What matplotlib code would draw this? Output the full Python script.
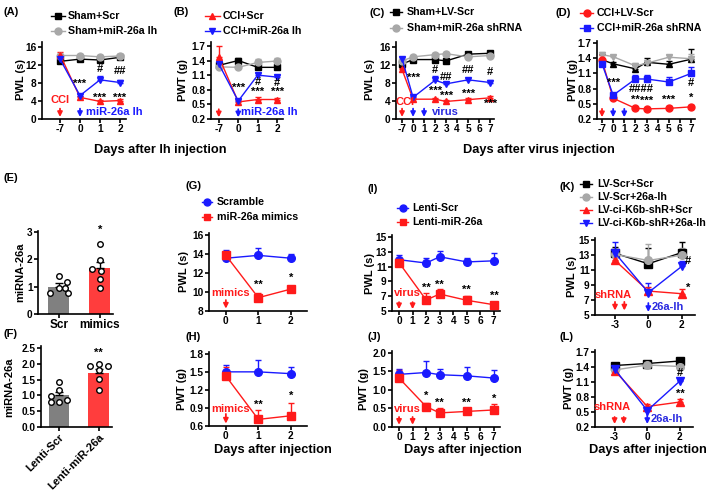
import matplotlib
matplotlib.use('Agg')
import matplotlib.pyplot as plt
from matplotlib.lines import Line2D
import numpy as np

plt.rcParams['font.family'] = ['Liberation Sans', 'DejaVu Sans']
plt.rcParams['font.weight'] = 'bold'
plt.rcParams['axes.labelweight'] = 'bold'

# ---------------- data ----------------
days_AB = ["-7", "0", "1", "2"]
A_sham_scr = [12.8, 13.3, 13.1, 13.7]; A_sham_scr_err = [0.5, 0.4, 0.5, 0.4]
A_sham_lh = [14.1, 14.1, 13.8, 14.0];  A_sham_lh_err = [0.4, 0.4, 0.4, 0.4]
A_cci_scr = [14.3, 4.8, 3.9, 4.1];     A_cci_scr_err = [0.5, 0.3, 0.3, 0.3]
A_cci_lh = [13.3, 5.2, 8.7, 8.1];      A_cci_lh_err = [0.4, 0.3, 0.9, 0.5]

B_sham_scr = [1.30, 1.40, 1.26, 1.26]; B_sham_scr_err = [0.05, 0.05, 0.04, 0.04]
B_sham_lh = [1.27, 1.26, 1.36, 1.39];  B_sham_lh_err = [0.04, 0.04, 0.07, 0.07]
B_cci_scr = [1.48, 0.55, 0.60, 0.60];  B_cci_scr_err = [0.22, 0.04, 0.06, 0.04]
B_cci_lh = [1.33, 0.57, 1.10, 1.06];   B_cci_lh_err = [0.05, 0.04, 0.05, 0.05]

days_CD_ticks = ["-7", "0", "1", "2", "3", "4", "5", "6", "7"]
days_CD = [-7, 0, 2, 3, 5, 7]
C_sham_lvscr = [12.2, 13.2, 13.2, 12.9, 14.4, 14.6]; C_sham_lvscr_err = [0.5, 0.6, 0.6, 0.6, 0.5, 0.5]
C_sham_sh = [12.9, 13.8, 14.3, 14.5, 13.8, 14.1];    C_sham_sh_err = [0.5, 0.4, 0.4, 0.4, 0.4, 0.4]
C_cci_lvscr = [11.0, 4.4, 4.4, 3.9, 4.3, 4.7];       C_cci_lvscr_err = [0.4, 0.3, 0.3, 0.3, 0.3, 0.3]
C_cci_sh = [13.4, 4.8, 8.6, 7.8, 8.7, 8.1];          C_cci_sh_err = [0.4, 0.3, 1.0, 0.5, 0.5, 0.6]

D_cci_lvscr = [1.36, 0.61, 0.41, 0.40, 0.41, 0.44];  D_cci_lvscr_err = [0.10, 0.03, 0.03, 0.02, 0.04, 0.03]
D_cci_sh = [1.29, 0.67, 0.99, 0.99, 0.93, 1.10];     D_cci_sh_err = [0.03, 0.03, 0.08, 0.07, 0.10, 0.12]
D_sham_lvscr = [1.37, 1.29, 1.19, 1.32, 1.28, 1.38]; D_sham_lvscr_err = [0.12, 0.04, 0.08, 0.08, 0.07, 0.20]
D_sham_sh = [1.47, 1.43, 1.25, 1.30, 1.42, 1.39];    D_sham_sh_err = [0.05, 0.04, 0.05, 0.05, 0.04, 0.10]

E_groups = ["Scr", "mimics"]
E_means = [1.0, 1.67]; E_err = [0.12, 0.25]
E_scr_pts = [0.76, 1.40, 0.95, 1.16, 0.76, 0.95]
E_mim_pts = [1.66, 2.57, 1.99, 1.56, 1.30, 0.97]

F_groups = ["Lenti-Scr", "Lenti-miR-26a"]
F_means = [1.0, 1.70]; F_err = [0.10, 0.12]
F_scr_pts = [1.42, 0.97, 1.16, 0.78, 0.84, 0.80]
F_mir_pts = [1.92, 1.99, 1.92, 1.79, 1.52, 1.16]

days_GH = ["0", "1", "2"]
G_scr = [13.55, 13.85, 13.55]; G_scr_err = [0.85, 0.75, 0.45]
G_mim = [13.85, 9.4, 10.3];    G_mim_err = [0.4, 0.5, 0.3]
H_scr = [1.50, 1.50, 1.47];    H_scr_err = [0.12, 0.20, 0.11]
H_mim = [1.43, 0.71, 0.77];    H_mim_err = [0.15, 0.15, 0.22]

days_IJ_ticks = ["0", "1", "2", "3", "4", "5", "6", "7"]
days_IJ = [0, 2, 3, 5, 7]
I_scr = [11.95, 11.5, 12.35, 11.65, 11.8]; I_scr_err = [0.6, 0.65, 0.8, 0.55, 1.0]
I_mir = [11.55, 6.5, 7.3, 6.45, 5.85];     I_mir_err = [0.3, 1.0, 0.7, 0.6, 0.3]
J_scr = [1.42, 1.47, 1.41, 1.38, 1.32];    J_scr_err = [0.14, 0.31, 0.16, 0.24, 0.23]
J_mir = [1.32, 0.55, 0.38, 0.42, 0.46];    J_mir_err = [0.22, 0.10, 0.12, 0.07, 0.17]

days_KL = ["-3", "0", "2"]
K_a = [13.25, 11.85, 13.35]; K_a_err = [0.8, 2.1, 1.4]
K_b = [13.1, 12.3, 13.0];    K_b_err = [0.6, 2.2, 0.9]
K_c = [12.3, 8.2, 7.85];     K_c_err = [0.4, 0.5, 0.6]
K_d = [13.3, 8.0, 11.5];     K_d_err = [1.4, 1.3, 0.7]
L_a = [1.43, 1.47, 1.52];    L_a_err = [0.04, 0.05, 0.03]
L_b = [1.34, 1.44, 1.41];    L_b_err = [0.03, 0.03, 0.03]
L_c = [1.33, 0.61, 0.70];    L_c_err = [0.03, 0.06, 0.07]
L_d = [1.36, 0.53, 1.12];    L_d_err = [0.03, 0.03, 0.03]

# ---------------- style ----------------
RED = '#ff1a1a'; BLUE = '#1a1aff'; GRAY = '#a8a8a8'; BLACK = '#000000'
TXTBLUE = '#2a2ae0'
W, H = 709, 494
fig = plt.figure(figsize=(W / 100, H / 100), dpi=100)
TICK_FS = 7.3
LEG_FS = 7.7
ANN_FS = 8


def add_ax(l, t, r, b):
    ax = fig.add_axes([l / W, 1 - b / H, (r - l) / W, (b - t) / H])
    for s in ['top', 'right']:
        ax.spines[s].set_visible(False)
    for s in ['left', 'bottom']:
        ax.spines[s].set_linewidth(1.2)
    ax.tick_params(width=1.2, length=2.6, labelsize=TICK_FS, pad=1.2)
    return ax


def ftext(x, y, s, **kw):
    kw.setdefault('ha', 'center')
    kw.setdefault('va', 'center')
    fig.text(x / W, 1 - y / H, s, **kw)


def series(ax, x, y, err, color, marker, ms=5, z=3):
    err = np.asarray(err)
    ax.errorbar(x, y, yerr=[np.zeros(len(err)), err], color=color, marker=marker,
                ms=ms, lw=1.0, elinewidth=1.0, capsize=2.5, capthick=1.0,
                zorder=z, clip_on=False, mec=color, mfc=color)


def arrow(ax, x, y0, y1, color):
    ax.annotate('', xy=(x, y1), xytext=(x, y0),
                arrowprops=dict(arrowstyle='-|>', color=color, lw=1.3,
                                mutation_scale=7, shrinkA=0, shrinkB=0),
                annotation_clip=False)


def ann(ax, x, y, s, color=BLACK, fs=ANN_FS, ha='center'):
    ax.text(x, y, s, color=color, fontsize=fs, ha=ha, va='center',
            fontweight='bold', clip_on=False, zorder=6)


def legend_entry(x0, x1, y, color, marker, text, tx):
    yy = 1 - y / H
    fig.add_artist(Line2D([x0 / W, x1 / W], [yy, yy], color=color, lw=1.0))
    fig.add_artist(Line2D([(x0 + x1) / 2 / W], [yy], color=color, marker=marker,
                          ms=5, ls='none'))
    fig.text(tx / W, yy, text, fontsize=LEG_FS, ha='left', va='center')


def pos_cd(d):
    return [-1 if v == -7 else v for v in d]


# ---------------- panel A ----------------
axA = add_ax(42, 42, 126, 119)
xA = [-1, 0, 1, 2]
series(axA, xA, A_sham_scr, A_sham_scr_err, BLACK, 's')
series(axA, xA, A_sham_lh, A_sham_lh_err, GRAY, 'o')
series(axA, xA, A_cci_scr, A_cci_scr_err, RED, '^')
series(axA, xA, A_cci_lh, A_cci_lh_err, BLUE, 'v')
axA.set_xlim(-1.9, 2.3); axA.set_ylim(0, 17.1)
axA.set_xticks(xA); axA.set_xticklabels(days_AB)
axA.set_yticks([0, 4, 8, 12, 16])
ann(axA, 0, 7.7, '***'); ann(axA, 1, 4.7, '***'); ann(axA, 2, 4.7, '***')
ann(axA, 1, 11.1, '#'); ann(axA, 2, 10.7, '##')
ann(axA, -1, 4.2, 'CCI', color=RED)
arrow(axA, -1, 2.3, 0.45, RED); arrow(axA, 0, 2.3, 0.45, BLUE)
ann(axA, 0.3, 1.5, 'miR-26a lh', color=BLUE, ha='left')

# ---------------- panel B ----------------
axB = add_ax(211, 42, 283, 119)
series(axB, xA, B_sham_scr, B_sham_scr_err, BLACK, 's')
series(axB, xA, B_sham_lh, B_sham_lh_err, GRAY, 'o')
series(axB, xA, B_cci_scr, B_cci_scr_err, RED, '^')
series(axB, xA, B_cci_lh, B_cci_lh_err, BLUE, 'v')
axB.set_xlim(-1.4, 2.3); axB.set_ylim(0.2, 1.78)
axB.set_xticks(xA); axB.set_xticklabels(days_AB)
axB.set_yticks([0.2, 0.5, 0.8, 1.1, 1.4, 1.7])
axB.set_yticklabels(['0.2', '0.5', '0.8', '1.1', '1.4', '1.7'])
ann(axB, 0, 0.84, '***'); ann(axB, 1, 0.75, '***'); ann(axB, 2, 0.75, '***')
ann(axB, 1, 0.965, '#'); ann(axB, 2, 0.93, '#')
arrow(axB, -1, 0.40, 0.235, RED); arrow(axB, 0, 0.40, 0.235, BLUE)
ann(axB, 0.15, 0.34, 'miR-26a lh', color=BLUE, ha='left')

# ---------------- panel C ----------------
axC = add_ax(396, 42, 494, 119)
xC = pos_cd(days_CD)
series(axC, xC, C_sham_lvscr, C_sham_lvscr_err, BLACK, 's')
series(axC, xC, C_sham_sh, C_sham_sh_err, GRAY, 'o')
series(axC, xC, C_cci_lvscr, C_cci_lvscr_err, RED, '^')
series(axC, xC, C_cci_sh, C_cci_sh_err, BLUE, 'v')
axC.set_xlim(-1.55, 7.35); axC.set_ylim(0, 17.1)
axC.set_xticks(range(-1, 8)); axC.set_xticklabels(days_CD_ticks)
axC.set_yticks([0, 4, 8, 12, 16])
for x, y, s in [(0, 9.1, '***'), (2, 6.2, '***'), (3, 5.1, '***'), (5, 5.6, '***'), (7, 3.3, '***'),
                (2, 10.9, '#'), (3, 9.3, '##'), (5, 10.9, '##'), (7, 10.4, '#')]:
    ann(axC, x, y, s)
ann(axC, -0.75, 3.8, 'CCI', color=RED)
arrow(axC, -1, 2.3, 0.45, RED); arrow(axC, 0, 2.3, 0.45, BLUE); arrow(axC, 1, 2.3, 0.45, BLUE)
ann(axC, 1.7, 1.5, 'virus', color=TXTBLUE, ha='left')

# ---------------- panel D ----------------
axD = add_ax(597, 41, 695, 119)
series(axD, xC, D_sham_lvscr, D_sham_lvscr_err, BLACK, '^')
series(axD, xC, D_sham_sh, D_sham_sh_err, GRAY, 'v')
series(axD, xC, D_cci_lvscr, D_cci_lvscr_err, RED, 'o')
series(axD, xC, D_cci_sh, D_cci_sh_err, BLUE, 's')
axD.set_xlim(-1.45, 7.35); axD.set_ylim(0.2, 1.74)
axD.set_xticks(range(-1, 8)); axD.set_xticklabels(days_CD_ticks)
axD.set_yticks([0.2, 0.5, 0.8, 1.1, 1.4, 1.7])
axD.set_yticklabels(['0.2', '0.5', '0.8', '1.1', '1.4', '1.7'])
for x, y, s in [(0, 0.91, '***'), (2.5, 0.79, '####'), (2, 0.575, '**'), (3, 0.56, '***'),
                (5, 0.57, '***'), (7, 0.61, '*'), (7, 0.91, '#')]:
    ann(axD, x, y, s)
arrow(axD, -1, 0.40, 0.235, RED); arrow(axD, 0, 0.40, 0.235, BLUE); arrow(axD, 1, 0.40, 0.235, BLUE)

# ---------------- panel E ----------------
axE = add_ax(38, 231, 113, 314)
axE.bar([0, 1], E_means, width=0.51, color=['#808080', '#ff3d3d'], zorder=2)
axE.errorbar([0, 1], E_means, yerr=[[0, 0], E_err], fmt='none', ecolor=BLACK,
             elinewidth=1.0, capsize=3, capthick=1.0, zorder=3)
offE_s = [-0.21, 0, 0, 0.2, 0.22, 0.14]
offE_m = [-0.2, 0, 0, 0.02, 0, 0]
axE.plot(np.array(offE_s), E_scr_pts, 'o', mfc='white', mec=BLACK, mew=1.0, ms=4, zorder=4, clip_on=False)
axE.plot(1 + np.array(offE_m), E_mim_pts, 'o', mfc='white', mec=BLACK, mew=1.0, ms=4, zorder=4, clip_on=False)
axE.set_xlim(-0.51, 1.32); axE.set_ylim(0, 3.04)
axE.set_xticks([0, 1]); axE.set_xticklabels(E_groups, fontsize=8.5)
axE.set_yticks([0, 1, 2, 3])
ann(axE, 1, 3.08, '*')

# ---------------- panel F ----------------
axF = add_ax(41, 346, 112, 427)
axF.bar([0, 1], F_means, width=0.52, color=['#808080', '#ff3d3d'], zorder=2)
axF.errorbar([0, 1], F_means, yerr=[[0, 0], F_err], fmt='none', ecolor=BLACK,
             elinewidth=1.0, capsize=3, capthick=1.0, zorder=3)
offF_s = [0, -0.2, 0, -0.2, 0.2, 0]
offF_m = [-0.22, 0, 0.22, 0, 0, 0]
axF.plot(np.array(offF_s), F_scr_pts, 'o', mfc='white', mec=BLACK, mew=1.0, ms=4, zorder=4, clip_on=False)
axF.plot(1 + np.array(offF_m), F_mir_pts, 'o', mfc='white', mec=BLACK, mew=1.0, ms=4, zorder=4, clip_on=False)
axF.set_xlim(-0.45, 1.33); axF.set_ylim(0, 2.56)
axF.set_xticks([0, 1])
axF.set_xticklabels(F_groups, rotation=45, ha='right', rotation_mode='anchor', fontsize=8)
axF.set_yticks([0, 0.5, 1.0, 1.5, 2.0, 2.5])
axF.set_yticklabels(['0.0', '0.5', '1.0', '1.5', '2.0', '2.5'])
ann(axF, 1, 2.34, '**')

# ---------------- panel G ----------------
axG = add_ax(209, 233, 307, 311)
xG = [0, 1, 2]
series(axG, xG, G_scr, G_scr_err, BLUE, 'o', ms=5.5)
series(axG, xG, G_mim, G_mim_err, RED, 's', ms=5.5)
axG.set_xlim(-0.52, 2.5); axG.set_ylim(8, 16.2)
axG.set_xticks(xG); axG.set_xticklabels(days_GH)
axG.set_yticks([8, 10, 12, 14, 16])
ann(axG, 0.15, 9.9, 'mimics', color=RED)
arrow(axG, 0, 9.15, 8.25, RED)
ann(axG, 1, 10.7, '**'); ann(axG, 2, 11.5, '*')

# ---------------- panel H ----------------
axH = add_ax(209, 352, 307, 426)
series(axH, xG, H_scr, H_scr_err, BLUE, 'o', ms=5.5)
series(axH, xG, H_mim, H_mim_err, RED, 's', ms=5.5)
axH.set_xlim(-0.52, 2.5); axH.set_ylim(0.6, 1.83)
axH.set_xticks(xG); axH.set_xticklabels(days_GH)
axH.set_yticks([0.6, 0.9, 1.2, 1.5, 1.8])
axH.set_yticklabels(['0.6', '0.9', '1.2', '1.5', '1.8'])
ann(axH, 0.15, 0.88, 'mimics', color=RED)
arrow(axH, 0, 0.80, 0.64, RED)
ann(axH, 1, 0.95, '**'); ann(axH, 2, 1.1, '*')

# ---------------- panel I ----------------
axI = add_ax(392, 235, 500, 311)
series(axI, days_IJ, I_scr, I_scr_err, BLUE, 'o', ms=5.5)
series(axI, days_IJ, I_mir, I_mir_err, RED, 's', ms=5.5)
axI.set_xlim(-0.52, 7.45); axI.set_ylim(5, 15.3)
axI.set_xticks(range(0, 8)); axI.set_xticklabels(days_IJ_ticks)
axI.set_yticks([5, 7, 9, 11, 13, 15])
ann(axI, 0.6, 7.4, 'virus', color=RED)
arrow(axI, 0, 6.2, 5.25, RED); arrow(axI, 1, 6.2, 5.25, RED)
for x, y in [(2, 8.2), (3, 8.5), (5, 7.8), (7, 7.0)]:
    ann(axI, x, y, '**')

# ---------------- panel J ----------------
axJ = add_ax(392, 351, 500, 427)
series(axJ, days_IJ, J_scr, J_scr_err, BLUE, 'o', ms=5.5)
series(axJ, days_IJ, J_mir, J_mir_err, RED, 's', ms=5.5)
axJ.set_xlim(-0.52, 7.45); axJ.set_ylim(0, 2.05)
axJ.set_xticks(range(0, 8)); axJ.set_xticklabels(days_IJ_ticks)
axJ.set_yticks([0, 0.5, 1.0, 1.5, 2.0])
axJ.set_yticklabels(['0.0', '0.5', '1.0', '1.5', '2.0'])
ann(axJ, 0.6, 0.49, 'virus', color=RED)
arrow(axJ, 0, 0.27, 0.06, RED); arrow(axJ, 1, 0.27, 0.06, RED)
for x, y, s in [(2, 0.84, '*'), (3, 0.65, '**'), (5, 0.65, '**'), (7, 0.76, '*')]:
    ann(axJ, x, y, s)

# ---------------- panel K ----------------
axK = add_ax(595, 238, 695, 315)
xK = [0, 1, 2]
series(axK, xK, K_a, K_a_err, BLACK, 's', ms=5.5)
series(axK, xK, K_b, K_b_err, GRAY, 'o', ms=5.5)
series(axK, xK, K_c, K_c_err, RED, '^', ms=5.5)
series(axK, xK, K_d, K_d_err, BLUE, 'v', ms=5.5)
axK.set_xlim(-0.6, 2.4); axK.set_ylim(5, 15.3)
axK.set_xticks(xK); axK.set_xticklabels(days_KL)
axK.set_yticks([5, 7, 9, 11, 13, 15])
ann(axK, -0.06, 7.7, 'shRNA', color=RED)
arrow(axK, 0, 6.75, 5.6, RED); arrow(axK, 0.28, 6.75, 5.6, RED)
arrow(axK, 1, 6.6, 5.4, BLUE)
ann(axK, 1.1, 6.05, '26a-lh', color=TXTBLUE, ha='left')
ann(axK, 2.2, 8.6, '*'); ann(axK, 2.2, 12.2, '#')

# ---------------- panel L ----------------
axL = add_ax(595, 350, 693, 427)
series(axL, xK, L_a, L_a_err, BLACK, 's', ms=5.5)
series(axL, xK, L_b, L_b_err, GRAY, 'o', ms=5.5)
series(axL, xK, L_c, L_c_err, RED, '^', ms=5.5)
series(axL, xK, L_d, L_d_err, BLUE, 'v', ms=5.5)
axL.set_xlim(-0.6, 2.4); axL.set_ylim(0.2, 1.74)
axL.set_xticks(xK); axL.set_xticklabels(days_KL)
axL.set_yticks([0.2, 0.5, 0.8, 1.1, 1.4, 1.7])
axL.set_yticklabels(['0.2', '0.5', '0.8', '1.1', '1.4', '1.7'])
ann(axL, -0.06, 0.60, 'shRNA', color=RED)
arrow(axL, 0, 0.40, 0.26, RED); arrow(axL, 0.28, 0.40, 0.26, RED)
arrow(axL, 1, 0.48, 0.26, BLUE)
ann(axL, 1.1, 0.36, '26a-lh', color=TXTBLUE, ha='left')
ann(axL, 2, 0.86, '**'); ann(axL, 2, 1.28, '#')

# ---------------- legends ----------------
legend_entry(51, 65, 16, BLACK, 's', 'Sham+Scr', 68)
legend_entry(51, 65, 31, GRAY, 'o', 'Sham+miR-26a lh', 68)
legend_entry(205, 220, 16, RED, '^', 'CCI+Scr', 223)
legend_entry(205, 220, 31, BLUE, 'v', 'CCI+miR-26a lh', 223)
legend_entry(390, 402, 12, BLACK, 's', 'Sham+LV-Scr', 407)
legend_entry(390, 402, 28, GRAY, 'o', 'Sham+miR-26a shRNA', 407)
legend_entry(580, 593, 13, RED, 'o', 'CCI+LV-Scr', 597)
legend_entry(580, 593, 28, BLUE, 's', 'CCI+miR-26a shRNA', 597)
legend_entry(202, 212, 202, BLUE, 'o', 'Scramble', 217)
legend_entry(202, 212, 217, RED, 's', 'miR-26a mimics', 217)
legend_entry(397, 408, 208, BLUE, 'o', 'Lenti-Scr', 412)
legend_entry(397, 408, 222, RED, 's', 'Lenti-miR-26a', 412)
legend_entry(580, 592, 184, BLACK, 's', 'LV-Scr+Scr', 597)
legend_entry(580, 592, 197, GRAY, 'o', 'LV-Scr+26a-lh', 597)
legend_entry(580, 592, 210, RED, '^', 'LV-ci-K6b-shR+Scr', 597)
legend_entry(580, 592, 223, BLUE, 'v', 'LV-ci-K6b-shR+26a-lh', 597)

# ---------------- panel labels ----------------
for lab, x, y in [('(A)', 3, 12), ('(B)', 173, 12), ('(C)', 370, 13), ('(D)', 555, 13),
                  ('(E)', 4, 178), ('(F)', 4, 334), ('(G)', 185, 186), ('(H)', 185, 337),
                  ('(I)', 367, 189), ('(J)', 367, 337), ('(K)', 560, 187), ('(L)', 560, 337)]:
    ftext(x, y, lab, ha='left', fontsize=8)

# ---------------- axis labels ----------------
for s, x, y in [('PWL (s)', 21, 80), ('PWT (g)', 183, 80), ('PWL (s)', 370, 80), ('PWT (g)', 573, 80),
                ('miRNA-26a', 20, 272), ('miRNA-26a', 9, 387), ('PWL (s)', 184, 272),
                ('PWT (g)', 182, 389), ('PWL (s)', 370, 273), ('PWT (g)', 364, 389),
                ('PWL (s)', 572, 276), ('PWT (g)', 569, 388)]:
    ftext(x, y, s, rotation=90, fontsize=8)

ftext(160, 150, 'Days after lh injection', fontsize=9.2)
ftext(539, 150, 'Days after virus injection', fontsize=9.2)
ftext(273, 450, 'Days after injection', fontsize=9.2)
ftext(463, 450, 'Days after injection', fontsize=9.2)
ftext(648, 450, 'Days after injection', fontsize=9.2)

fig.savefig('out.png', dpi=100)
